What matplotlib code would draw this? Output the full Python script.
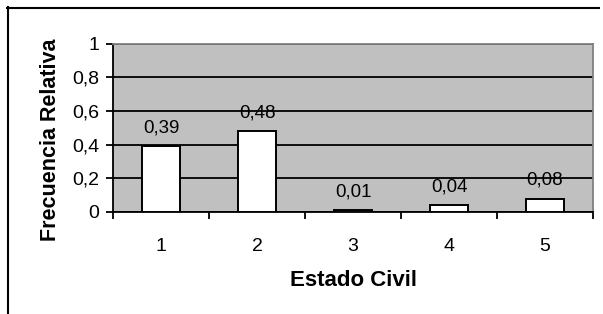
import matplotlib
matplotlib.use("Agg")
import matplotlib.pyplot as plt
from matplotlib.ticker import FixedLocator
from matplotlib.lines import Line2D

categories = ["1", "2", "3", "4", "5"]
values = [0.39, 0.48, 0.01, 0.04, 0.08]
value_labels = ["0,39", "0,48", "0,01", "0,04", "0,08"]
yticks = [0, 0.2, 0.4, 0.6, 0.8, 1.0]
ytick_labels = ["0", "0,2", "0,4", "0,6", "0,8", "1"]

plt.rcParams['font.family'] = ['Liberation Sans', 'DejaVu Sans']

W, H = 603, 314
fig = plt.figure(figsize=(W / 100, H / 100), dpi=100)
fig.patch.set_facecolor("white")

# outer chart border (left & top visible)
fig.add_artist(Line2D([7 / W, 599 / W], [1 - 7.5 / H, 1 - 7.5 / H], color="black", lw=1.5, transform=fig.transFigure))
fig.add_artist(Line2D([7.5 / W, 7.5 / W], [1 - 7 / H, 0], color="black", lw=1.5, transform=fig.transFigure))

ax = fig.add_axes([113 / W, (H - 212) / H, (593 - 113) / W, (212 - 43.5) / H])
ax.set_facecolor("#C0C0C0")

x = list(range(1, len(categories) + 1))
ax.set_axisbelow(True)
ax.yaxis.grid(True, color="black", lw=1.3)
bars = ax.bar(x, values, width=0.4, color="white", edgecolor="black", linewidth=1.4, zorder=3)

for xi, v, lab in zip(x, values, value_labels):
    ax.annotate(lab, (xi, v), xytext=(0, 7), textcoords="offset points",
                ha="center", va="bottom", fontsize=13.5)

ax.set_xlim(0.5, len(categories) + 0.5)
ax.set_ylim(0, 1)
ax.set_yticks(yticks)
ax.set_yticklabels(ytick_labels, fontsize=14)
ax.set_xticks(x)
ax.set_xticklabels(categories, fontsize=14)
ax.tick_params(axis="x", which="major", length=0, pad=19)
ax.xaxis.set_minor_locator(FixedLocator([i + 0.5 for i in range(0, len(categories) + 1)]))
ax.tick_params(axis="x", which="minor", length=5, width=1.3, direction="out")
ax.tick_params(axis="y", length=5, width=1.3, direction="out", pad=5)

for s in ["left", "bottom"]:
    ax.spines[s].set_color("black")
    ax.spines[s].set_linewidth(1.3)
for s in ["top", "right"]:
    ax.spines[s].set_color("#808080")
    ax.spines[s].set_linewidth(1.3)

ax.set_xlabel("Estado Civil", fontsize=16, fontweight="bold")
ax.xaxis.set_label_coords(0.5, (212 - 270) / 168.5)
ax.set_ylabel("Frecuencia Relativa", fontsize=15.5, fontweight="bold")
ax.yaxis.set_label_coords((61.5 - 113) / 480, (212 - 140) / 168.5)

fig.savefig("out.png", dpi=100)
